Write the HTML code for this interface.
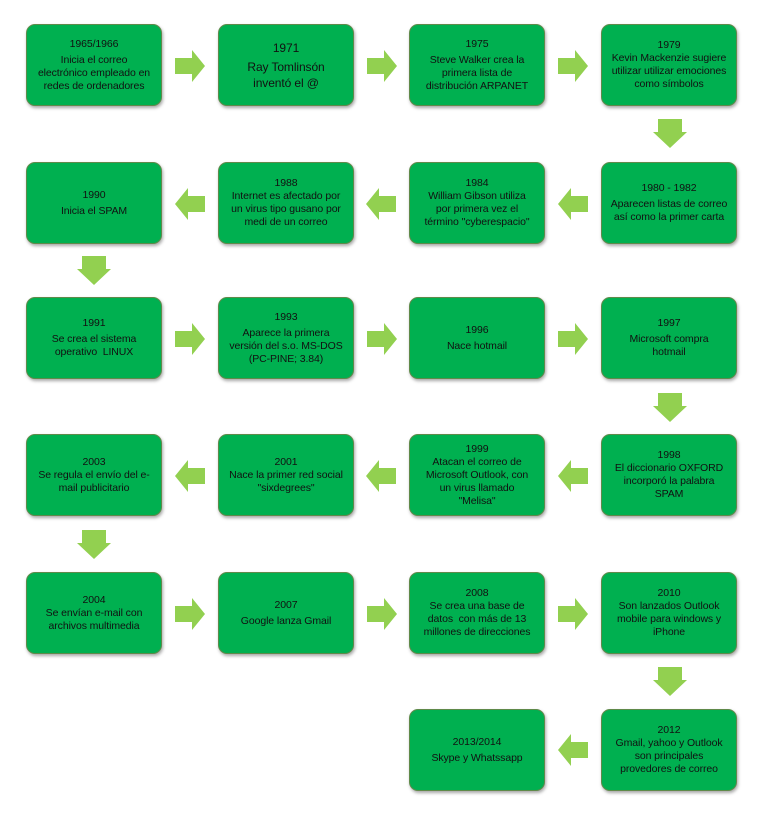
<!DOCTYPE html>
<html><head><meta charset="utf-8"><style>
body{margin:0;width:763px;height:816px;background:#fff;position:relative;font-family:"Liberation Sans",sans-serif;overflow:hidden}
.b{position:absolute;width:136px;height:82px;background:#00b050;border:1px solid #5f8a4a;border-radius:9px;box-shadow:1px 2px 3px rgba(0,0,0,.35);display:flex;flex-direction:column;justify-content:center;align-items:center;text-align:center;font-size:10.5px;line-height:13px;color:#111;box-sizing:border-box;padding:0 2px;white-space:nowrap;letter-spacing:-0.1px}
.b p{margin:0}.b .y{margin-bottom:3px}
svg{position:absolute;left:0;top:0}
</style></head><body>
<svg width="763" height="816">
<defs>
<polygon id="r" points="0,-8 17,-8 17,-16 30,0 17,16 17,8 0,8" fill="#92d050"/>
<polygon id="d" points="-12,0 12,0 12,13 17,13 0,29 -17,13 -12,13" fill="#92d050"/>
</defs>
<use href="#r" x="175" y="66"/><use href="#r" x="367" y="66"/><use href="#r" x="558" y="66"/>
<use href="#d" x="670" y="119"/>
<use href="#r" transform="translate(588,204) scale(-1,1)"/><use href="#r" transform="translate(396,204) scale(-1,1)"/><use href="#r" transform="translate(205,204) scale(-1,1)"/>
<use href="#d" x="94" y="256"/>
<use href="#r" x="175" y="339"/><use href="#r" x="367" y="339"/><use href="#r" x="558" y="339"/>
<use href="#d" x="670" y="393"/>
<use href="#r" transform="translate(588,476) scale(-1,1)"/><use href="#r" transform="translate(396,476) scale(-1,1)"/><use href="#r" transform="translate(205,476) scale(-1,1)"/>
<use href="#d" x="94" y="530"/>
<use href="#r" x="175" y="614"/><use href="#r" x="367" y="614"/><use href="#r" x="558" y="614"/>
<use href="#d" x="670" y="667"/>
<use href="#r" transform="translate(588,750) scale(-1,1)"/>
</svg>
<div class="b" style="left:26px;top:24px"><p class="y">1965/1966</p><p>Inicia el correo<br>electrónico empleado en<br>redes de ordenadores</p></div>
<div class="b" style="left:218px;top:24px;font-size:12px;line-height:16px"><p class="y">1971</p><p>Ray Tomlinsón<br>inventó el @</p></div>
<div class="b" style="left:409px;top:24px"><p class="y">1975</p><p>Steve Walker crea la<br>primera lista de<br>distribución ARPANET</p></div>
<div class="b" style="left:601px;top:24px"><p>1979</p><p>Kevin Mackenzie sugiere<br>utilizar utilizar emociones<br>como símbolos</p></div>
<div class="b" style="left:26px;top:162px"><p class="y">1990</p><p>Inicia el SPAM</p></div>
<div class="b" style="left:218px;top:162px"><p>1988</p><p>Internet es afectado por<br>un virus tipo gusano por<br>medi de un correo</p></div>
<div class="b" style="left:409px;top:162px"><p>1984</p><p>William Gibson utiliza<br>por primera vez el<br>término "cyberespacio"</p></div>
<div class="b" style="left:601px;top:162px"><p class="y">1980 - 1982</p><p>Aparecen listas de correo<br>así como la primer carta</p></div>
<div class="b" style="left:26px;top:297px"><p class="y">1991</p><p>Se crea el sistema<br>operativo &nbsp;LINUX</p></div>
<div class="b" style="left:218px;top:297px"><p class="y">1993</p><p>Aparece la primera<br>versión del s.o. MS-DOS<br>(PC-PINE; 3.84)</p></div>
<div class="b" style="left:409px;top:297px"><p class="y">1996</p><p>Nace hotmail</p></div>
<div class="b" style="left:601px;top:297px"><p class="y">1997</p><p>Microsoft compra<br>hotmail</p></div>
<div class="b" style="left:26px;top:434px"><p>2003</p><p>Se regula el envío del e-<br>mail publicitario</p></div>
<div class="b" style="left:218px;top:434px"><p>2001</p><p>Nace la primer red social<br>"sixdegrees"</p></div>
<div class="b" style="left:409px;top:434px"><p>1999</p><p>Atacan el correo de<br>Microsoft Outlook, con<br>un virus llamado<br>"Melisa"</p></div>
<div class="b" style="left:601px;top:434px"><p>1998</p><p>El diccionario OXFORD<br>incorporó la palabra<br>SPAM</p></div>
<div class="b" style="left:26px;top:572px"><p>2004</p><p>Se envían e-mail con<br>archivos multimedia</p></div>
<div class="b" style="left:218px;top:572px"><p class="y">2007</p><p>Google lanza Gmail</p></div>
<div class="b" style="left:409px;top:572px"><p>2008</p><p>Se crea una base de<br>datos &nbsp;con más de 13<br>millones de direcciones</p></div>
<div class="b" style="left:601px;top:572px"><p>2010</p><p>Son lanzados Outlook<br>mobile para windows y<br>iPhone</p></div>
<div class="b" style="left:409px;top:709px"><p class="y">2013/2014</p><p>Skype y Whatssapp</p></div>
<div class="b" style="left:601px;top:709px"><p>2012</p><p>Gmail, yahoo y Outlook<br>son principales<br>provedores de correo</p></div>
</body></html>
